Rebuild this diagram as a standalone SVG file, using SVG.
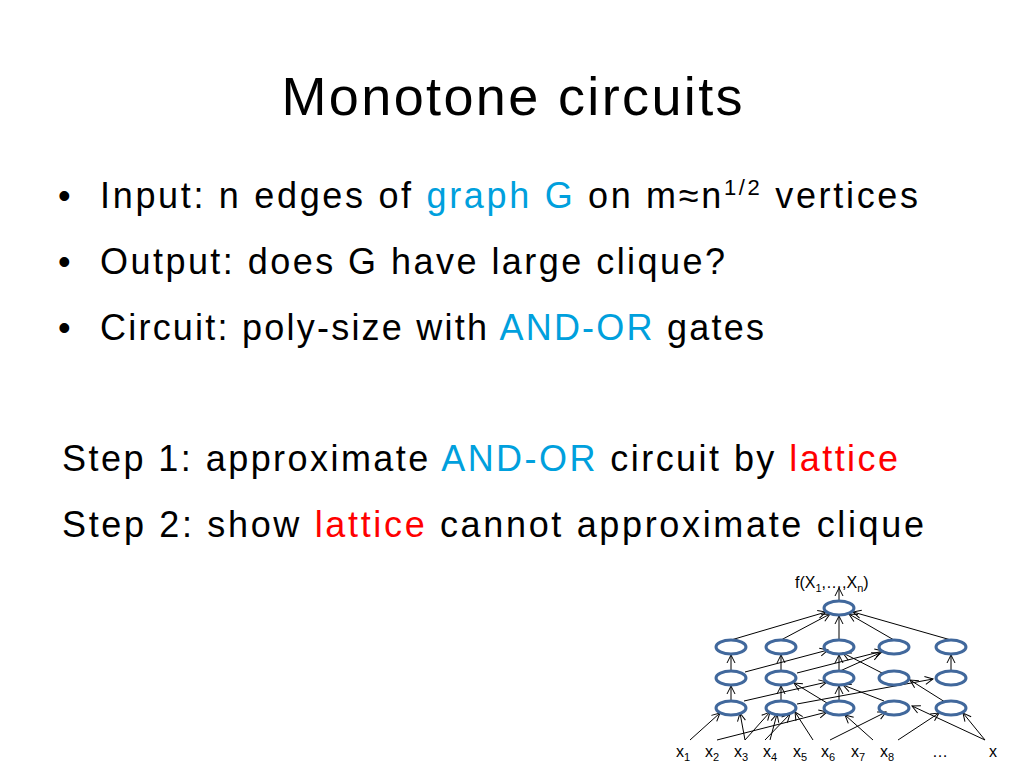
<svg xmlns="http://www.w3.org/2000/svg" width="1024" height="768" viewBox="0 0 1024 768">
<style>
text{font-family:"Liberation Sans",Arial,sans-serif;fill:#000}
.b{font-size:36px}
.blue{fill:#00a0dd}
.red{fill:#ff0000}
.n ellipse{fill:none;stroke:#41689c;stroke-width:3}
.c line{stroke:#000;stroke-width:1;marker-end:url(#a)}
.s{font-size:16px}
.sub{font-size:11px}
</style>
<defs><marker id="a" markerWidth="10" markerHeight="10" refX="9" refY="5" orient="auto" markerUnits="userSpaceOnUse"><path d="M1,1 L9,5 L1,9" fill="none" stroke="#000" stroke-width="1"/></marker></defs>
<rect width="1024" height="768" fill="#fff"/>
<text x="512" y="115" text-anchor="middle" font-size="54" textLength="461">Monotone circuits</text>
<text class="b" x="58" y="208">•</text><text class="b" x="100" y="208" textLength="818">Input: n edges of <tspan class="blue">graph G</tspan> on m≈n<tspan font-size="22" dy="-13">1/2</tspan><tspan dy="13"> vertices</tspan></text>
<text class="b" x="58" y="274">•</text><text class="b" x="100" y="274" textLength="625">Output: does G have large clique?</text>
<text class="b" x="58" y="340">•</text><text class="b" x="100" y="340" textLength="664">Circuit: poly-size with <tspan class="blue">AND-OR</tspan> gates</text>
<text class="b" x="62" y="471" textLength="836">Step 1: approximate <tspan class="blue">AND-OR</tspan> circuit by <tspan class="red">lattice</tspan></text>
<text class="b" x="62" y="537" textLength="862">Step 2: show <tspan class="red">lattice</tspan> cannot approximate clique</text>
<text class="s" x="795" y="588">f(X<tspan class="sub" dy="4">1</tspan><tspan dy="-4">,…,X</tspan><tspan class="sub" dy="4">n</tspan><tspan dy="-4">)</tspan></text>
<g class="c">
<line x1="839" y1="600" x2="839" y2="588"/>
<line x1="731" y1="640" x2="826" y2="612"/>
<line x1="781" y1="640" x2="830" y2="614"/>
<line x1="839" y1="640" x2="839" y2="616"/>
<line x1="894" y1="640" x2="849" y2="614"/>
<line x1="951" y1="640" x2="853" y2="612"/>
<line x1="731" y1="671" x2="731" y2="655"/>
<line x1="781" y1="671" x2="781" y2="655"/>
<line x1="745" y1="672" x2="828" y2="650"/>
<line x1="797" y1="673" x2="883" y2="651"/>
<line x1="840" y1="671" x2="880" y2="653"/>
<line x1="839" y1="671" x2="839" y2="655"/>
<line x1="884" y1="674" x2="843" y2="653"/>
<line x1="951" y1="671" x2="951" y2="655"/>
<line x1="731" y1="701" x2="731" y2="686"/>
<line x1="781" y1="701" x2="781" y2="686"/>
<line x1="744" y1="701" x2="827" y2="682"/>
<line x1="797" y1="704" x2="933" y2="679"/>
<line x1="839" y1="701" x2="839" y2="686"/>
<line x1="827" y1="703" x2="794" y2="683"/>
<line x1="884" y1="701" x2="843" y2="685"/>
<line x1="945" y1="702" x2="910" y2="680"/>
<line x1="690" y1="740" x2="720" y2="713"/>
<line x1="745" y1="740" x2="740" y2="713"/>
<line x1="745" y1="740" x2="770" y2="712"/>
<line x1="717" y1="740" x2="827" y2="712"/>
<line x1="770" y1="740" x2="777" y2="714"/>
<line x1="765" y1="740" x2="790" y2="714"/>
<line x1="813" y1="740" x2="795" y2="712"/>
<line x1="830" y1="740" x2="886" y2="712"/>
<line x1="873" y1="740" x2="845" y2="715"/>
<line x1="898" y1="740" x2="939" y2="713"/>
<line x1="985" y1="740" x2="912" y2="706"/>
<line x1="985" y1="740" x2="963" y2="713"/>
</g>
<g class="n">
<g id="n0"><ellipse cx="839" cy="608" rx="15" ry="7"/></g>
<g id="r2a"><ellipse cx="731" cy="647" rx="15" ry="7"/></g>
<g id="r2b"><ellipse cx="781" cy="647" rx="15" ry="7"/></g>
<g id="r2c"><ellipse cx="839" cy="647" rx="15" ry="7"/></g>
<g id="r2d"><ellipse cx="894" cy="647" rx="15" ry="7"/></g>
<g id="r2e"><ellipse cx="951" cy="647" rx="15" ry="7"/></g>
<g id="r3a"><ellipse cx="731" cy="678" rx="15" ry="7"/></g>
<g id="r3b"><ellipse cx="781" cy="678" rx="15" ry="7"/></g>
<g id="r3c"><ellipse cx="839" cy="678" rx="15" ry="7"/></g>
<g id="r3d"><ellipse cx="894" cy="678" rx="15" ry="7"/></g>
<g id="r3e"><ellipse cx="951" cy="678" rx="15" ry="7"/></g>
<g id="r4a"><ellipse cx="731" cy="708" rx="15" ry="7"/></g>
<g id="r4b"><ellipse cx="781" cy="708" rx="15" ry="7"/></g>
<g id="r4c"><ellipse cx="839" cy="708" rx="15" ry="7"/></g>
<g id="r4d"><ellipse cx="894" cy="708" rx="15" ry="7"/></g>
<g id="r4e"><ellipse cx="951" cy="708" rx="15" ry="7"/></g>
</g>
<g class="s">
<text x="676" y="757">x<tspan class="sub" dy="4">1</tspan></text>
<text x="705" y="757">x<tspan class="sub" dy="4">2</tspan></text>
<text x="734" y="757">x<tspan class="sub" dy="4">3</tspan></text>
<text x="763" y="757">x<tspan class="sub" dy="4">4</tspan></text>
<text x="793" y="757">x<tspan class="sub" dy="4">5</tspan></text>
<text x="821" y="757">x<tspan class="sub" dy="4">6</tspan></text>
<text x="851" y="757">x<tspan class="sub" dy="4">7</tspan></text>
<text x="880" y="757">x<tspan class="sub" dy="4">8</tspan></text>
<text x="932" y="757">…</text>
<text x="989" y="757">x</text>
</g>
</svg>
